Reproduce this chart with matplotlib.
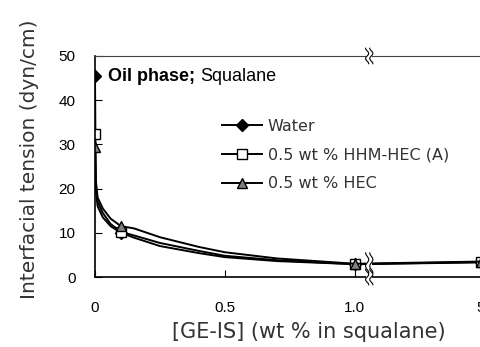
import matplotlib.pyplot as plt
import numpy as np

plt.rcParams['font.family'] = ['DejaVu Sans']

# GE-IS concentration (wt % in squalane) and interfacial tension (dyn/cm)
conc = [0, 0.003, 0.01, 0.03, 0.06, 0.1, 0.15, 0.25, 0.4, 0.5, 0.7, 1.0, 5]
water = [45.5, 20.0, 16.0, 13.5, 11.5, 10.0, 8.9, 7.0, 5.4, 4.5, 3.6, 2.9, 3.4]
hhm_hec = [32.3, 21.0, 17.0, 14.5, 12.0, 10.2, 9.4, 7.7, 5.9, 4.8, 3.8, 2.9, 3.3]
hec = [29.3, 22.0, 18.0, 15.5, 13.2, 11.5, 11.0, 9.0, 6.8, 5.6, 4.2, 3.0, 3.5]
marked = [0, 5, 11, 12]  # points that carry a marker

xticks = [0, 0.5, 1.0, 5]
xticklabels = ['0', '0.5', '1.0', '5']

# broken axis: values above 1 are squeezed to the right edge
X5 = 1.485
def xpos(v):
    return [x if x <= 1 else X5 for x in v]

fig = plt.figure(figsize=(4.81, 3.47), dpi=100)
ax = fig.add_axes([0.1975, 0.2017, 0.8025, 0.637])

lw = 1.4
ax.plot(xpos(conc), water, color='black', lw=lw, marker='D', ms=6,
        mfc='black', mec='black', markevery=marked, label='Water')
ax.plot(xpos(conc), hhm_hec, color='black', lw=lw, marker='s', ms=7.5,
        mfc='white', mec='black', mew=1, markevery=marked,
        label='0.5 wt % HHM-HEC (A)')
ax.plot(xpos(conc), hec, color='black', lw=lw, marker='^', ms=7.5,
        mfc='#808080', mec='black', mew=1, markevery=marked,
        label='0.5 wt % HEC')

ax.set_xlim(0, X5)
ax.set_ylim(0, 50)
ax.set_yticks([0, 10, 20, 30, 40, 50])
ax.set_xticks([xpos([t])[0] for t in xticks])
ax.set_xticklabels(xticklabels)
ax.tick_params(axis='both', direction='in', length=5, width=0.8,
               labelsize=11, colors='black')
ax.tick_params(axis='x', pad=17)
ax.tick_params(axis='y', pad=14)
for lab in ax.get_xticklabels() + ax.get_yticklabels():
    lab.set_fontfamily(['Liberation Sans', 'DejaVu Sans'])
ax.spines['right'].set_visible(False)
for s in ['left', 'bottom']:
    ax.spines[s].set_linewidth(1.2)
ax.spines['top'].set_linewidth(0.8)
ax.spines['top'].set_color('#444444')

ax.set_ylabel('Interfacial tension (dyn/cm)', fontsize=14.5, color='#333333')
ax.yaxis.set_label_coords(-0.145, 0.535)
ax.set_xlabel('[GE-IS] (wt % in squalane)', fontsize=15, color='#333333')
ax.xaxis.set_label_coords(0.554, -0.205)

oil = ax.text(0.05, 45.3, 'Oil phase;', fontsize=13, fontweight='bold',
              va='center', family=['Liberation Sans', 'DejaVu Sans'])
ax.annotate('Squalane', xy=(1, 0.5), xycoords=oil, xytext=(4, 0),
            textcoords='offset points', va='center', fontsize=13,
            family=['Liberation Sans', 'DejaVu Sans'])

ax.legend(loc='upper left', bbox_to_anchor=(0.329, 0.715), frameon=False,
          fontsize=11.5, handlelength=2.5, handletextpad=0.35,
          labelspacing=0.85, borderaxespad=0, borderpad=0,
          labelcolor='#333333')

# break marks
xb = 1.055
def squiggle(yc, h):
    t = np.linspace(-1, 1, 40)
    yy = yc + t * h / 2
    wig = 0.006 * np.sin(t * np.pi * 1.5)
    ax.fill_betweenx(yy, xb - 0.012, xb + 0.012, color='white', zorder=6,
                     clip_on=False, lw=0)
    for dx in (-0.008, 0.008):
        ax.plot(xb + dx + wig, yy, color='black', lw=0.8, zorder=7,
                clip_on=False)

squiggle(50, 3.5)
squiggle(3.2, 4.5)
squiggle(0, 3.5)

fig.savefig('out.png', dpi=100)
